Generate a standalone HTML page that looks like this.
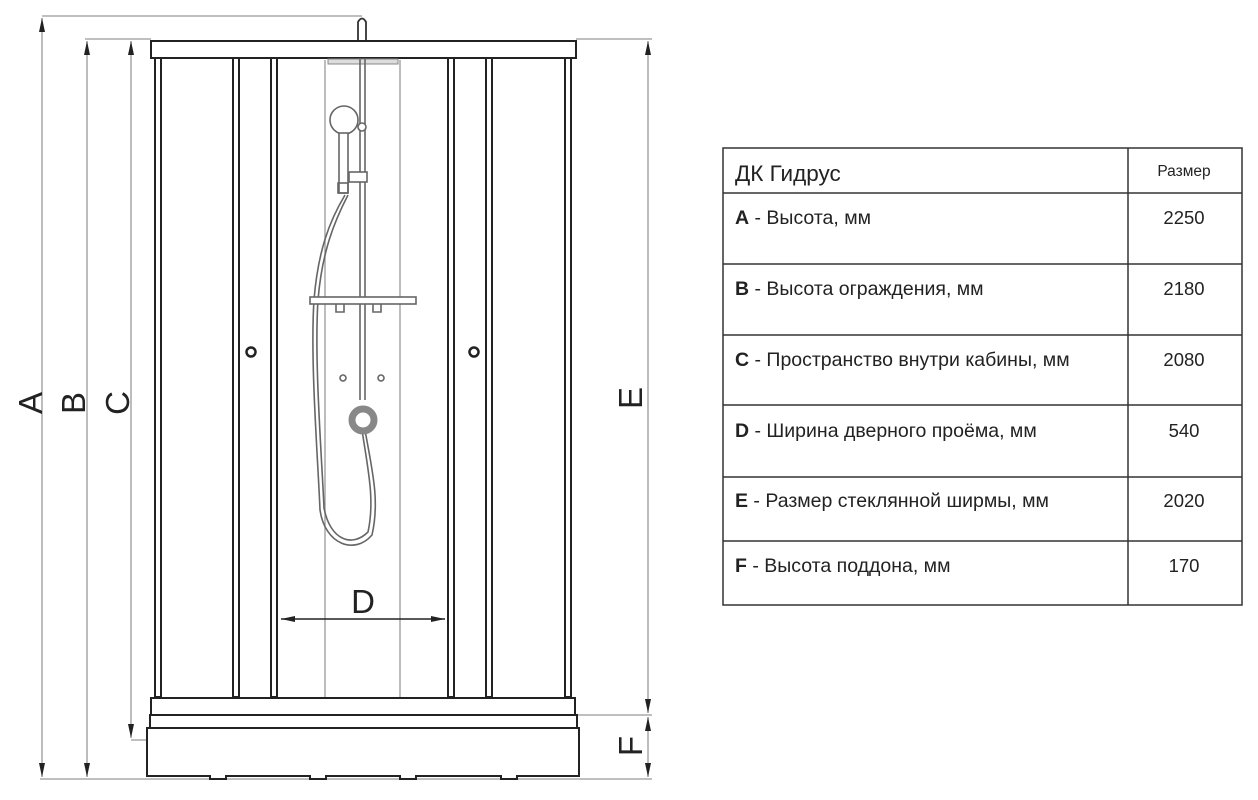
<!DOCTYPE html>
<html><head><meta charset="utf-8"><style>
html,body{margin:0;padding:0;background:#fff;width:1258px;height:800px;overflow:hidden}
text{font-family:"Liberation Sans","DejaVu Sans",sans-serif;fill:#222}
</style></head><body>
<svg width="1258" height="800" viewBox="0 0 1258 800" xmlns="http://www.w3.org/2000/svg">
<defs>
<marker id="ar" viewBox="0 0 10 10" refX="10" refY="5" markerWidth="14" markerHeight="6" orient="auto-start-reverse" markerUnits="userSpaceOnUse" preserveAspectRatio="none"><path d="M0,0 L10,5 L0,10 z" fill="#222"/></marker>
</defs>
<g stroke="#999" stroke-width="1.3" fill="none">
<line x1="42" y1="16" x2="362" y2="16"/>
<line x1="85" y1="39" x2="151" y2="39"/>
<line x1="576" y1="39" x2="652" y2="39"/>
<line x1="40" y1="779" x2="652" y2="779"/>
<line x1="131" y1="740" x2="262" y2="740"/>
<line x1="576" y1="715" x2="652" y2="715"/>
<line x1="42" y1="18" x2="42" y2="777" marker-start="url(#ar)" marker-end="url(#ar)"/>
<line x1="87" y1="41" x2="87" y2="777" marker-start="url(#ar)" marker-end="url(#ar)"/>
<line x1="131" y1="41" x2="131" y2="738" marker-start="url(#ar)" marker-end="url(#ar)"/>
<line x1="648" y1="41" x2="648" y2="713" marker-start="url(#ar)" marker-end="url(#ar)"/>
<line x1="648" y1="717" x2="648" y2="777" marker-start="url(#ar)" marker-end="url(#ar)"/>
<line x1="325" y1="60" x2="325" y2="697"/>
<line x1="400" y1="60" x2="400" y2="697"/>
</g>
<path d="M358,41 L358,22 Q362,15 366,22 L366,41" fill="#fff" stroke="#333" stroke-width="1.8"/>
<rect x="151" y="41" width="425" height="17" fill="#fff" stroke="#222" stroke-width="2"/>
<rect x="328" y="59" width="70" height="5" fill="#ddd" stroke="#888"/>
<g fill="#fff" stroke="#222" stroke-width="2">
<rect x="155" y="58" width="6" height="639"/>
<rect x="233" y="58" width="6" height="639"/>
<rect x="271" y="58" width="6" height="639"/>
<rect x="448" y="58" width="6" height="639"/>
<rect x="486" y="58" width="6" height="639"/>
<rect x="565" y="58" width="6" height="639"/>
</g>
<circle cx="251" cy="352" r="4.5" fill="none" stroke="#222" stroke-width="2.5"/>
<circle cx="474" cy="352" r="4.5" fill="none" stroke="#222" stroke-width="2.5"/>
<g stroke="#666" stroke-width="1.6" fill="none">
<line x1="360" y1="58" x2="360" y2="400"/><line x1="365" y1="58" x2="365" y2="400"/>
<circle cx="344" cy="120" r="14" fill="#fff"/>
<circle cx="362" cy="127" r="4" fill="#fff"/>
<rect x="339" y="133" width="9" height="60" fill="#fff"/>
<rect x="338" y="183" width="10" height="10"/>
<rect x="349" y="172" width="18" height="10" fill="#fff"/>
<path d="M345,195 C330,220 318,250 314,300 C310,360 318,460 320,510 C325,545 355,555 372,535 C380,500 372,470 365,430"/>
<path d="M348,195 C334,222 322,252 318,300 C314,360 322,460 324,508 C330,540 352,548 368,532 C375,500 368,470 362,430"/>
<rect x="310" y="297" width="106" height="7" fill="#fff"/>
<path d="M336,304 v8 h8 v-8 M373,304 v8 h8 v-8"/>
<circle cx="343" cy="378" r="3"/><circle cx="381" cy="378" r="3"/>
</g>
<circle cx="363" cy="420" r="11" fill="none" stroke="#888" stroke-width="7"/>
<g fill="#fff" stroke="#222" stroke-width="2">
<rect x="151" y="698" width="424" height="17"/>
<rect x="150" y="715" width="427" height="13"/>
<path d="M147,728 L579,728 L579,776 L517,776 L517,779 L501,779 L501,776 L416,776 L416,779 L400,779 L400,776 L326,776 L326,779 L310,779 L310,776 L226,776 L226,779 L210,779 L210,776 L147,776 Z"/>
</g>
<line x1="281" y1="619" x2="445" y2="619" stroke="#222" stroke-width="1.5" marker-start="url(#ar)" marker-end="url(#ar)"/>
<text x="363" y="613" font-size="33" text-anchor="middle">D</text>
<text transform="translate(42,403) rotate(-90)" font-size="33" text-anchor="middle">A</text>
<text transform="translate(85,403) rotate(-90)" font-size="33" text-anchor="middle">B</text>
<text transform="translate(129,403) rotate(-90)" font-size="33" text-anchor="middle">C</text>
<text transform="translate(642,398) rotate(-90)" font-size="33" text-anchor="middle">E</text>
<text transform="translate(642,746) rotate(-90)" font-size="33" text-anchor="middle">F</text>
<g stroke="#333" stroke-width="1.5" fill="none">
<rect x="723" y="148" width="519" height="457"/>
<line x1="1128" y1="148" x2="1128" y2="605"/>
<line x1="723" y1="193" x2="1242" y2="193"/>
<line x1="723" y1="264" x2="1242" y2="264"/>
<line x1="723" y1="335" x2="1242" y2="335"/>
<line x1="723" y1="405" x2="1242" y2="405"/>
<line x1="723" y1="477" x2="1242" y2="477"/>
<line x1="723" y1="541" x2="1242" y2="541"/>
</g>
<g font-size="19.5">
<text x="735" y="181" font-size="22.5">ДК Гидрус</text>
<text x="1184" y="176" font-size="15.5" text-anchor="middle">Размер</text>
<text x="735" y="224"><tspan font-weight="bold">A</tspan> - Высота, мм</text>
<text x="735" y="295"><tspan font-weight="bold">B</tspan> - Высота ограждения, мм</text>
<text x="735" y="366"><tspan font-weight="bold">C</tspan> - Пространство внутри кабины, мм</text>
<text x="735" y="437"><tspan font-weight="bold">D</tspan> - Ширина дверного проёма, мм</text>
<text x="735" y="507"><tspan font-weight="bold">E</tspan> - Размер стеклянной ширмы, мм</text>
<text x="735" y="572"><tspan font-weight="bold">F</tspan> - Высота поддона, мм</text>
<g font-size="18.5">
<text x="1184" y="224" text-anchor="middle">2250</text>
<text x="1184" y="295" text-anchor="middle">2180</text>
<text x="1184" y="366" text-anchor="middle">2080</text>
<text x="1184" y="437" text-anchor="middle">540</text>
<text x="1184" y="507" text-anchor="middle">2020</text>
<text x="1184" y="572" text-anchor="middle">170</text>
</g>
</g>
</svg>
</body></html>
